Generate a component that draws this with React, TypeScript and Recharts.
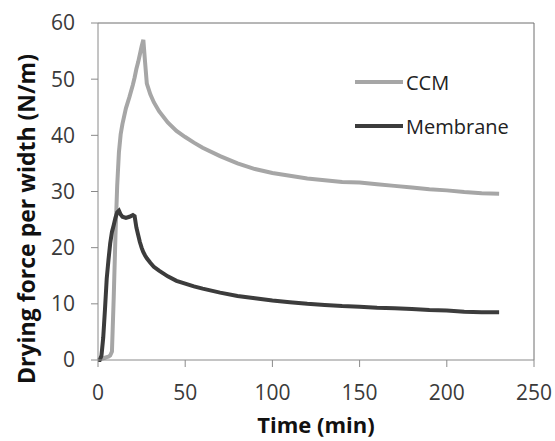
import React from "react";
import {
  LineChart,
  Line,
  XAxis,
  YAxis,
  ReferenceLine,
  Legend,
  Label,
} from "recharts";

// time in minutes
const time = [
  0, 1, 2, 3, 4, 5, 6, 7, 8, 9, 10, 11, 12, 13, 14, 16, 18, 20, 21, 22, 23, 24,
  25, 26, 27, 28, 30, 32, 35, 40, 45, 50, 55, 60, 70, 80, 90, 100, 110, 120,
  130, 140, 150, 160, 170, 180, 190, 200, 210, 220, 230,
];

// drying force per width (N/m)
const ccm = [
  0, 0.1, 0.2, 0.3, 0.4, 0.5, 0.6, 0.8, 1.5, 11, 22, 31, 37, 40.2, 42, 44.8,
  46.8, 49, 50.3, 51.8, 53, 54.4, 55.8, 57, 53, 49.2, 47.3, 45.9, 44.3, 42.3,
  40.8, 39.7, 38.7, 37.8, 36.3, 35, 34, 33.3, 32.8, 32.3, 32, 31.7, 31.6, 31.3,
  31, 30.7, 30.4, 30.2, 29.9, 29.7, 29.6,
];

const membrane = [
  0, 0, 0.8, 4, 9, 14.5, 17.8, 20.8, 22.8, 24, 25.3, 26.3, 26.6, 25.9, 25.5,
  25.3, 25.5, 25.8, 25.6, 23.6, 22.3, 21, 20, 19.2, 18.6, 18.1, 17.3, 16.6,
  15.9, 14.9, 14.1, 13.6, 13.1, 12.7, 12, 11.4, 11, 10.6, 10.3, 10, 9.8, 9.6,
  9.5, 9.3, 9.2, 9.1, 8.9, 8.8, 8.6, 8.5, 8.5,
];

const xTicks = [0, 50, 100, 150, 200, 250];
const yTicks = [0, 10, 20, 30, 40, 50, 60];

const series = [
  { key: "ccm", name: "CCM", color: "#a6a6a6" },
  { key: "membrane", name: "Membrane", color: "#3c3c3c" },
];

const data = time.map((t, i) => ({ t, ccm: ccm[i], membrane: membrane[i] }));

const FONT = "'Open Sans', sans-serif";
const titleStyle = { fontSize: 23, fontWeight: 700, fill: "#111", fontFamily: FONT };

function LegendBox() {
  return (
    <div style={{ fontFamily: FONT, fontSize: 20, color: "#222" }}>
      {series.map((s) => (
        <div
          key={s.key}
          style={{ display: "flex", alignItems: "center", height: 44 }}
        >
          <svg width={50} height={10}>
            <line x1={1} y1={5} x2={49} y2={5} stroke={s.color} strokeWidth={4} />
          </svg>
          <span style={{ marginLeft: 2 }}>{s.name}</span>
        </div>
      ))}
    </div>
  );
}

export default function App() {
  const tickStyle = { fontSize: 21, fill: "#3a3a3a", fontFamily: FONT };
  return (
    <div style={{ position: "absolute", left: 0, top: 0, background: "#fff" }}>
      <LineChart
        width={555}
        height={441}
        data={data}
        margin={{ top: 23, right: 21, bottom: 0, left: 0 }}
      >
        <XAxis
          dataKey="t"
          type="number"
          domain={[0, 250]}
          ticks={xTicks}
          height={81}
          tickSize={7}
          tickMargin={18}
          stroke="#8a8a8a"
          tick={tickStyle}
          interval={0}
        >
          <Label
            content={() => (
              <text x={316} y={433} textAnchor="middle" style={{ ...titleStyle, fontSize: 22 }}>
                Time (min)
              </text>
            )}
          />
        </XAxis>
        <YAxis
          type="number"
          domain={[0, 60]}
          ticks={yTicks}
          width={98}
          tickSize={7}
          tickMargin={16}
          stroke="#8a8a8a"
          tick={tickStyle}
          interval={0}
        >
          <Label
            content={() => (
              <text
                x={35}
                y={219}
                textAnchor="middle"
                transform="rotate(-90, 35, 219)"
                style={titleStyle}
              >
                Drying force per width (N/m)
              </text>
            )}
          />
        </YAxis>
        <ReferenceLine y={60} stroke="#6e6e6e" />
        <ReferenceLine x={250} stroke="#6e6e6e" />
        <Legend
          layout="vertical"
          align="center"
          verticalAlign="middle"
          content={() => <LegendBox />}
          wrapperStyle={{ left: 354, top: 60, width: "auto" }}
        />
        {series.map((s) => (
          <Line
            key={s.key}
            dataKey={s.key}
            name={s.name}
            type="linear"
            stroke={s.color}
            strokeWidth={4}
            dot={false}
            isAnimationActive={false}
            legendType="line"
          />
        ))}
      </LineChart>
    </div>
  );
}
